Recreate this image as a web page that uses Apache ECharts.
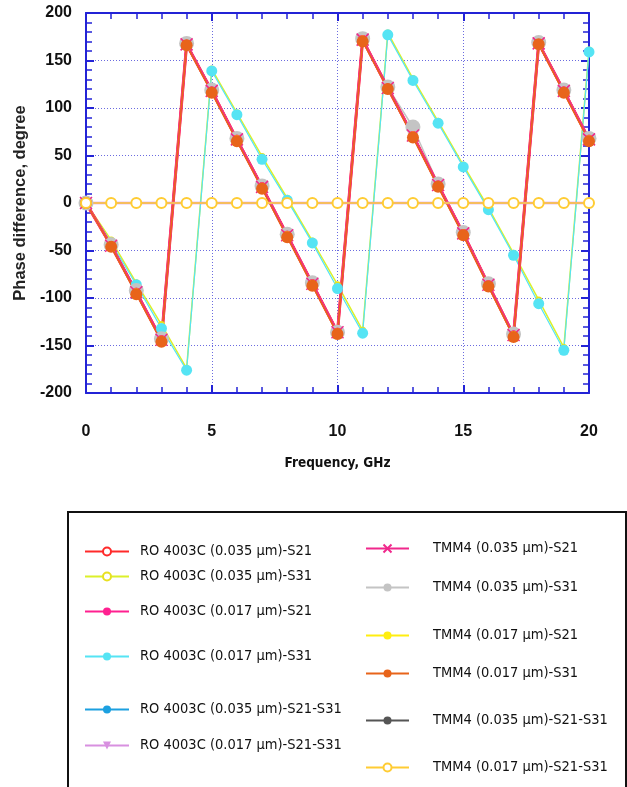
<!DOCTYPE html>
<html><head><meta charset="utf-8">
<script src="https://cdn.jsdelivr.net/npm/echarts@6/dist/echarts.min.js"></script>
<style>html,body{margin:0;padding:0;background:#fff}#c{width:627px;height:787px}</style>
</head><body><div id="c"></div>
<script>
var freq = [0,1,2,3,4,5,6,7,8,9,10,11,12,13,14,15,16,17,18,19,20];
var ro035S21 = [0,-45,-94,-144,167,118,67,17,-34,-85,-136,172,121,71,19,-32,-86,-139,168,118,67];
var ro035S31 = [0,-39,-84,-128,-174,141,95,49,5,-40,-86,-134,179,131,86,40,-5,-53,-102,-152,161];
var ro017S21 = [0,-45,-94,-144,167,118,67,17,-34,-85,-136,172,121,71,19,-32,-86,-139,168,118,67];
var ro017S31 = [0,-42,-86,-132,-176,139,93,46,3,-42,-90,-137,177,129,84,38,-7,-55,-106,-155,159];
var ro035Diff = [0,0,0,0,0,0,0,0,0,0,0,0,0,0,0,0,0,0,0,0,0];
var ro017Diff = [0,0,0,0,0,0,0,0,0,0,0,0,0,0,0,0,0,0,0,0,0];
var tmm035S21 = [0,-45,-94,-144,167,118,67,17,-34,-85,-136,172,121,71,19,-32,-86,-139,168,118,67];
var tmm035S31 = [0,-44,-92,-143,168,119,68,18,-33,-84,-136,173,122,80,20,-31,-85,-138,169,119,68];
var tmm017S21 = [0,-45,-94,-144,167,118,67,17,-34,-85,-136,172,121,71,19,-32,-86,-139,168,118,67];
var tmm017S31 = [0,-46,-96,-146,166,116,65,15,-36,-87,-138,170,120,69,17,-34,-88,-141,167,116,65];
var tmm035Diff = [0,0,0,0,0,0,0,0,0,0,0,0,0,0,0,0,0,0,0,0,0];
var tmm017Diff = [0,0,0,0,0,0,0,0,0,0,0,0,0,0,0,0,0,0,0,0,0];
var names = ['RO 4003C (0.035 µm)-S21','RO 4003C (0.035 µm)-S31','RO 4003C (0.017 µm)-S21','RO 4003C (0.017 µm)-S31','RO 4003C (0.035 µm)-S21-S31','RO 4003C (0.017 µm)-S21-S31','TMM4 (0.035 µm)-S21','TMM4 (0.035 µm)-S31','TMM4 (0.017 µm)-S21','TMM4 (0.017 µm)-S31','TMM4 (0.035 µm)-S21-S31','TMM4 (0.017 µm)-S21-S31'];

var narrow = '"Liberation Sans Narrow","DejaVu Sans Condensed","Arial Narrow",sans-serif';
function pts(arr){ return freq.map(function(f,i){ return [f, arr[i]]; }); }
var chart = echarts.init(document.getElementById('c'));
var axisBlue = '#2323d6';
var gridLine = {show:true, lineStyle:{color:'#6b6be0', type:[1,2], width:1}};
function xa(show){ return {type:'value', min:0, max:20, interval:5, position: show?'bottom':'top',
  axisLine:{show:true, onZero:false, lineStyle:{color:axisBlue,width:2}},
  axisTick:{show:true, inside:true, length:8, lineStyle:{color:axisBlue,width:2}},
  minorTick:{show:true, splitNumber:5, length:6, lineStyle:{color:axisBlue,width:1.5}},
  splitLine: show?gridLine:{show:false},
  axisLabel:{show:show, margin:31, fontFamily:'Liberation Sans', fontWeight:'bold', fontSize:16, color:'#111'},
  name: show?'Frequency, GHz':'', nameLocation:'middle', nameGap:63,
  nameTextStyle:{fontFamily:narrow, fontWeight:'bold', fontSize:13.5, color:'#111'}}; }
function ya(show){ return {type:'value', min:-200, max:200, interval:50, position: show?'left':'right',
  axisLine:{show:true, onZero:false, lineStyle:{color:axisBlue,width:2}},
  axisTick:{show:true, inside:true, length:8, lineStyle:{color:axisBlue,width:2}},
  minorTick:{show:true, splitNumber:5, length:6, lineStyle:{color:axisBlue,width:1.5}},
  splitLine: show?gridLine:{show:false},
  axisLabel:{show:show, margin:14, fontFamily:'Liberation Sans', fontWeight:'bold', fontSize:16, color:'#111'},
  name: show?'Phase difference, degree':'', nameLocation:'middle', nameGap:56,
  nameTextStyle:{fontFamily:'Liberation Sans', fontWeight:'bold', fontSize:16.5, color:'#222'}}; }

var crossPath = 'path://M0,0L10,10M10,0L0,10';
function ser(idx, data, color, lw, sym, size, extra){
  var s = {name:names[idx], type:'line', data:pts(data), xAxisIndex:0, yAxisIndex:0,
    symbol:sym, symbolSize:size, showAllSymbol:true,
    lineStyle:{color:color, width:lw}, itemStyle:{color:color}, z:2};
  if(extra){ for(var k in extra){ s[k]=extra[k]; } }
  return s;
}
var series = [
  ser(1, ro035S31, '#dcf02a', 1.5, 'emptyCircle', 5, {itemStyle:{color:'#e8e020', borderColor:'#e04020', borderWidth:1.5}}),
  ser(3, ro017S31, '#55e4f4', 1.2, 'circle', 11),
  ser(7, tmm035S31, '#c4c4c4', 1.5, 'circle', 15),
  ser(0, ro035S21, '#ff2a2a', 3, 'emptyCircle', 7),
  ser(2, ro017S21, '#ff2090', 2.5, 'circle', 9),
  ser(8, tmm017S21, '#ffee10', 1.5, 'circle', 8),
  ser(6, tmm035S21, '#f0288c', 2, crossPath, 12, {itemStyle:{color:'#f0288c', borderColor:'#f0288c', borderWidth:1.5}}),
  ser(9, tmm017S31, '#e8641a', 1.5, 'circle', 12),
  ser(4, ro035Diff, '#1ca0e0', 1.5, 'circle', 7),
  ser(10, tmm035Diff, '#555555', 1.5, 'circle', 7),
  ser(5, ro017Diff, '#d890e0', 2.5, 'triangle', 8, {symbolRotate:180}),
  ser(11, tmm017Diff, '#ffcc33', 1.5, 'emptyCircle', 10, {itemStyle:{color:'#ffcc33', borderWidth:2}})
];
var leftCol = [[0,553],[1,578],[2,613],[3,658],[4,711],[5,747]];
var rightCol = [[6,550],[7,589],[8,637],[9,675],[10,722],[11,769]];
var legends = [];
leftCol.forEach(function(p){ legends.push({data:[names[p[0]]], left:84, top:p[1]-9, padding:0, itemWidth:44, itemHeight:10,
  textStyle:{fontFamily:narrow, fontSize:14.5, color:'#111', padding:[0,0,0,6]}, selectedMode:false}); });
rightCol.forEach(function(p){ legends.push({data:[names[p[0]]], left:365, top:p[1]-9, padding:0, itemWidth:43, itemHeight:10,
  textStyle:{fontFamily:narrow, fontSize:14.5, color:'#111', padding:[0,0,0,19]}, selectedMode:false}); });

chart.setOption({
  animation:false,
  backgroundColor:'#fff',
  grid:{left:86, right:38, top:13, bottom:394, containLabel:false},
  xAxis:[xa(true), xa(false)],
  yAxis:[ya(true), ya(false)],
  legend: legends,
  graphic:[{type:'rect', shape:{x:68, y:512, width:558, height:300}, style:{fill:'none', stroke:'#111', lineWidth:2}}],
  series: series
});
</script></body></html>
